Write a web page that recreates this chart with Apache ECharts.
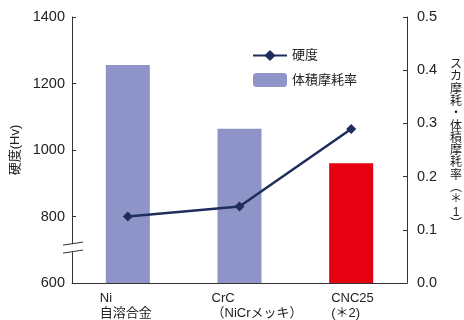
<!DOCTYPE html>
<html>
<head>
<meta charset="utf-8">
<script src="https://cdn.jsdelivr.net/npm/echarts@6/dist/echarts.min.js"></script>
<style>
  html, body { margin: 0; padding: 0; background: #fff; }
  #main { width: 464px; height: 320px; }
</style>
</head>
<body>
<div id="main"></div>
<script>
// データ
const categories = ['Ni\n自溶合金', 'CrC\n（NiCrメッキ）', 'CNC25\n(＊2)'];
const hardness = [800, 830, 1063];          // 硬度(Hv)
const wearRate = [0.41, 0.29, 0.225];       // 体積摩耗率
const hardnessTicks = [600, 800, 1000, 1200, 1400];
const wearTicks = [0, 0.1, 0.2, 0.3, 0.4, 0.5];

const FONT = "'Liberation Sans', 'Noto Sans CJK JP', sans-serif";
const AXIS_COLOR = '#333';
const BAR_COLOR = '#8e94c8';
const RED = '#e60012';
const NAVY = '#1f2d5c';

const chart = echarts.init(document.getElementById('main'), null, { renderer: 'canvas' });

// 縦書きの軸名
const rightName = ['ス', 'カ', '摩', '耗', '・', '体', '積', '摩', '耗', '率', '︵', '＊', '1', '︶'].join('\n');

const option = {
  animation: false,
  textStyle: { fontFamily: FONT },
  grid: { left: 72, right: 57, top: 17, bottom: 37 },
  legend: {
    orient: 'vertical',
    left: 247,
    top: 44,
    itemWidth: 34,
    itemHeight: 14,
    itemGap: 11,
    textStyle: { fontSize: 13, color: '#222', fontFamily: FONT },
    data: ['硬度', '体積摩耗率']
  },
  xAxis: {
    type: 'category',
    data: categories,
    axisLine: { lineStyle: { color: AXIS_COLOR } },
    axisTick: { show: false },
    axisLabel: {
      margin: 8,
      interval: 0,
      hideOverlap: false,
      formatter: function (v, i) {
        return v.split('\n').map(s => (i === 2 ? '{b|' : '{a|') + s + '}').join('\n');
      },
      rich: {
        a: { width: 56, align: 'left', fontSize: 13, lineHeight: 15, color: '#222', fontFamily: FONT },
        b: { width: 40, align: 'left', fontSize: 13, lineHeight: 15, color: '#222', fontFamily: FONT }
      }
    }
  },
  yAxis: [
    {
      type: 'value',
      min: hardnessTicks[0],
      max: hardnessTicks[hardnessTicks.length - 1],
      interval: hardnessTicks[1] - hardnessTicks[0],
      name: '硬度(Hv)',
      nameLocation: 'middle',
      nameGap: 45,
      nameTextStyle: { fontSize: 13, color: '#222', fontFamily: FONT },
      axisLine: { show: true, lineStyle: { color: AXIS_COLOR } },
      axisTick: { show: true, inside: true, length: 4, lineStyle: { color: AXIS_COLOR } },
      axisLabel: { fontSize: 14.5, color: '#222', margin: 7, formatter: v => String(v) },
      splitLine: { show: false }
    },
    {
      type: 'value',
      min: wearTicks[0],
      max: wearTicks[wearTicks.length - 1],
      interval: 0.1,
      axisLine: { show: true, lineStyle: { color: AXIS_COLOR } },
      axisTick: { show: true, inside: true, length: 4, lineStyle: { color: AXIS_COLOR } },
      axisLabel: { fontSize: 14.5, color: '#222', margin: 10, formatter: v => v.toFixed(1) },
      splitLine: { show: false }
    }
  ],
  series: [
    {
      name: '体積摩耗率',
      type: 'bar',
      yAxisIndex: 1,
      barWidth: 44,
      itemStyle: { color: BAR_COLOR },
      data: wearRate.map((v, i) => i === 2 ? { value: v, itemStyle: { color: RED } } : v),
      z: 1
    },
    {
      name: '硬度',
      type: 'line',
      yAxisIndex: 0,
      symbol: 'diamond',
      symbolSize: 10,
      lineStyle: { color: NAVY, width: 2.5 },
      itemStyle: { color: NAVY },
      data: hardness,
      z: 3
    }
  ]
};

chart.setOption(option);

// 縦軸の省略記号（波線）と右軸名
const yb = chart.convertToPixel({ yAxisIndex: 0 }, 705);
const xb = chart.convertToPixel({ xAxisIndex: 0 }, 0) - 55.8;
const yMid = chart.convertToPixel({ yAxisIndex: 1 }, 0.26);
chart.setOption({
  graphic: [
    { type: 'rect', shape: { x: xb - 3, y: yb - 4, width: 6, height: 8 }, style: { fill: '#fff' }, z: 100 },
    { type: 'line', shape: { x1: xb - 9, y1: yb - 3, x2: xb + 11, y2: yb - 6 }, style: { stroke: AXIS_COLOR, lineWidth: 1 }, z: 101 },
    { type: 'line', shape: { x1: xb - 9, y1: yb + 5, x2: xb + 11, y2: yb + 2 }, style: { stroke: AXIS_COLOR, lineWidth: 1 }, z: 101 },
    {
      type: 'text', x: 456, y: yMid, z: 50,
      style: {
        text: rightName, fontSize: 12, lineHeight: 12.3, fill: '#222', fontFamily: FONT,
        align: 'center', verticalAlign: 'middle'
      }
    }
  ]
});
</script>
</body>
</html>
